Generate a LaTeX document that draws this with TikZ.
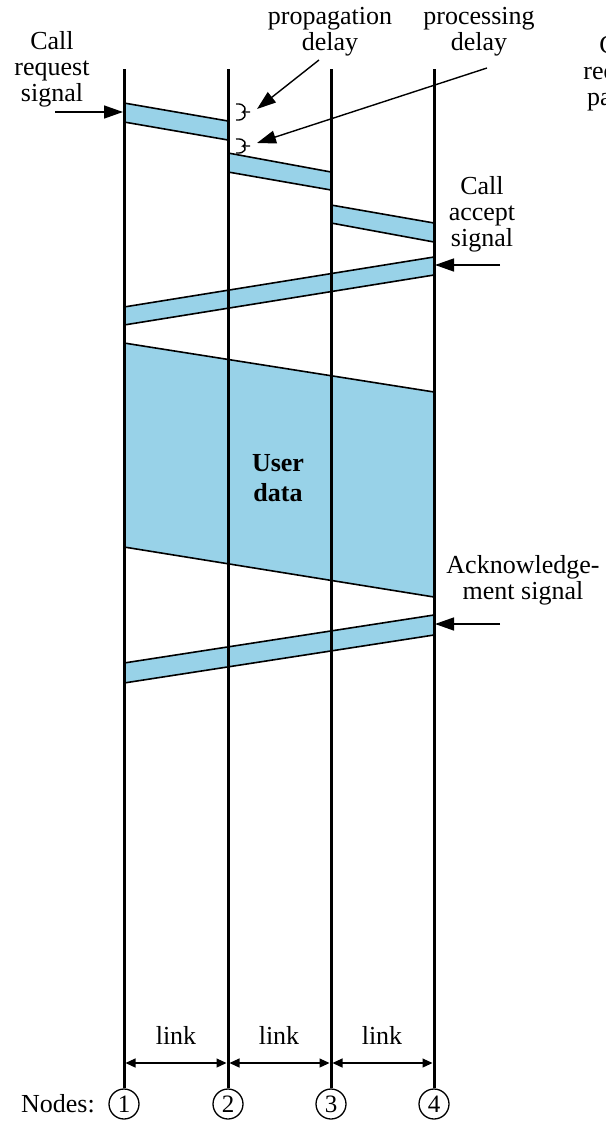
\documentclass[tikz,border=0pt]{standalone}
\usepackage{fontspec}
\setmainfont{Liberation Serif}
\usetikzlibrary{arrows.meta}
\definecolor{bandblue}{RGB}{152,210,232}
\begin{document}
\begin{tikzpicture}[x=1pt,y=-1pt,
  lbl/.style={font=\fontsize{26}{26}\selectfont, align=center, inner sep=0pt},
  timeline/.style={line width=3pt},
  edge/.style={line width=1.6pt},
  band/.style={fill=bandblue},
  ptr/.style={line width=1.4pt, -{Triangle[length=19pt,width=13pt]}},
  linkarr/.style={line width=1.2pt, {Triangle[length=10pt,width=9pt]}-{Triangle[length=10pt,width=9pt]}},
  nodecirc/.style={circle, draw, line width=1.3pt, minimum size=30pt, inner sep=0pt, font=\fontsize{25}{25}\selectfont},
  delaymark/.style={line width=1.4pt}
]
\useasboundingbox (0,0) rectangle (605,1127);
\clip (0,0) rectangle (605,1127);

% packets travelling between the nodes
\fill[band] (124,103) -- (228,121) -- (228,140) -- (124,122) -- cycle;
\draw[edge] (124,103) -- (228,121) (124,122) -- (228,140);
\fill[band] (228,153) -- (331,172) -- (331,190) -- (228,172) -- cycle;
\draw[edge] (228,153) -- (331,172) (228,172) -- (331,190);
\fill[band] (331,205) -- (434,223) -- (434,242) -- (331,223) -- cycle;
\draw[edge] (331,205) -- (434,223) (331,223) -- (434,242);
\fill[band] (434,257) -- (124,307) -- (124,325) -- (434,275) -- cycle;
\draw[edge] (434,257) -- (124,307) (434,275) -- (124,325);
\fill[band] (124,343) -- (434,392) -- (434,597) -- (124,547) -- cycle;
\draw[edge] (124,343) -- (434,392) (124,547) -- (434,597);
\fill[band] (434,615) -- (124,663) -- (124,683) -- (434,635) -- cycle;
\draw[edge] (434,615) -- (124,663) (434,635) -- (124,683);

% nodes and their time lines
\node[lbl, anchor=east] (nodes) at (95,1104) {Nodes:};
\node[nodecirc] (n1) at (124,1104) {1};
\node[nodecirc] (n2) at (228,1104) {2};
\node[nodecirc] (n3) at (331,1104) {3};
\node[nodecirc] (n4) at (434,1104) {4};
\coordinate (t1) at (124,69);
\coordinate (t2) at (228,69);
\coordinate (t3) at (331,69);
\coordinate (t4) at (434,69);
\draw[timeline] (t1) -- (n1.north);
\draw[timeline] (t2) -- (n2.north);
\draw[timeline] (t3) -- (n3.north);
\draw[timeline] (t4) -- (n4.north);

% links
\coordinate (k1) at (125.5,1063);
\coordinate (k2a) at (226.5,1063);
\coordinate (k2b) at (229.5,1063);
\coordinate (k3a) at (329.5,1063);
\coordinate (k3b) at (332.5,1063);
\coordinate (k4) at (432.5,1063);
\draw[linkarr] (k1) -- (k2a);
\draw[linkarr] (k2b) -- (k3a);
\draw[linkarr] (k3b) -- (k4);
\node[lbl] (link1) at (176,1035) {link};
\node[lbl] (link2) at (279,1035) {link};
\node[lbl] (link3) at (382,1035) {link};

% labels
\node[lbl] (creq) at (52,69) {Call\\request\\signal};
\node[lbl] (prop) at (330,32) {propagation\\delay};
\node[lbl] (proc) at (479,32) {processing\\delay};
\node[lbl] (cpkt) at (621,73) {Call\\request\\packet};
\node[lbl] (cacc) at (482,214) {Call\\accept\\signal};
\node[lbl] (ack) at (523,580) {Acknowledge-\\ment signal};
\node[lbl, font=\fontsize{26}{30}\selectfont\bfseries] (udata) at (278,478) {User\\data};

% delay marks beside node 2
\coordinate (m1) at (243,112);
\coordinate (m2) at (243,146);
\draw[delaymark] (236,104) .. controls (246,103) and (247,111) .. (m1) -- ++(7,0);
\draw[delaymark] (m1) .. controls (247,113) and (246,121) .. (236,120);
\draw[delaymark] (236,139) .. controls (246,138) and (247,145) .. (m2) -- ++(7,0);
\draw[delaymark] (m2) .. controls (247,147) and (246,154) .. (236,153);

% pointers
\coordinate (crs) at (55,112);
\coordinate (crt) at (123,112);
\draw[ptr] (crs) -- (crt);
\coordinate (pps) at (319,60);
\coordinate (ppt) at (257,109);
\draw[ptr] (pps) -- (ppt);
\coordinate (pcs) at (487,68);
\coordinate (pct) at (257,143);
\draw[ptr] (pcs) -- (pct);
\coordinate (cas) at (500,265);
\coordinate (cat) at (435,265);
\draw[ptr] (cas) -- (cat);
\coordinate (aks) at (500,624);
\coordinate (akt) at (435,624);
\draw[ptr] (aks) -- (akt);
\end{tikzpicture}
\end{document}
